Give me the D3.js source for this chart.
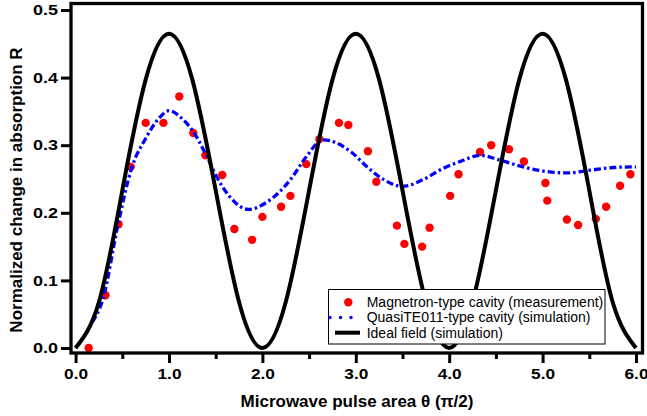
<!DOCTYPE html>
<html>
<head>
<meta charset="utf-8">
<script src="https://cdn.jsdelivr.net/npm/d3@7"></script>
<style>
  body { margin: 0; background: #fff; }
  svg { display: block; font-family: "Liberation Sans", Arial, Helvetica, sans-serif; }
</style>
</head>
<body>
<div id="chart"></div>
<script>
// measured cavity response (red dots)
var measTheta = [0.14, 0.32, 0.46, 0.59, 0.75, 0.94, 1.11, 1.26, 1.39, 1.57, 1.70, 1.89, 2.00,
  2.20, 2.30, 2.47, 2.61, 2.82, 2.92, 3.13, 3.22, 3.44, 3.52, 3.71, 3.79, 4.01, 4.10,
  4.33, 4.45, 4.64, 4.80, 5.03, 5.05, 5.26, 5.38, 5.57, 5.68, 5.83, 5.94];
var measR = [0.000, 0.078, 0.183, 0.268, 0.333, 0.333, 0.372, 0.318, 0.285, 0.256, 0.176, 0.160, 0.194,
  0.209, 0.225, 0.272, 0.309, 0.333, 0.330, 0.291, 0.246, 0.181, 0.154, 0.150, 0.178, 0.225, 0.257,
  0.290, 0.300, 0.294, 0.276, 0.244, 0.218, 0.190, 0.182, 0.191, 0.209, 0.240, 0.257];

// QuasiTE011 simulation (blue dash-dot)
var quasiTheta = [0, 0.15, 0.30, 0.45, 0.60, 0.75, 0.90, 1.00, 1.15, 1.25, 1.40, 1.50, 1.65, 1.85,
  2.05, 2.30, 2.47, 2.65, 2.95, 3.12, 3.30, 3.50, 3.72, 3.94, 4.12, 4.33, 4.54, 4.79,
  5.04, 5.26, 5.51, 5.76, 6.00];
var quasiR = [0.000, 0.031, 0.076, 0.180, 0.266, 0.310, 0.341, 0.351, 0.338, 0.322, 0.285, 0.256, 0.224, 0.205,
  0.216, 0.249, 0.283, 0.308, 0.290, 0.268, 0.249, 0.239, 0.249, 0.266, 0.276, 0.285, 0.278, 0.268,
  0.261, 0.259, 0.263, 0.267, 0.268];

// ideal field simulation (black)
var idealTheta = [0, 0.25, 0.5, 0.75, 1, 1.25, 1.5, 1.75, 2, 2.25, 2.5, 2.75, 3, 3.25, 3.5, 3.75,
  4, 4.25, 4.5, 4.75, 5, 5.25, 5.5, 5.75, 6];
var idealR = [0, 0.068, 0.233, 0.397, 0.465, 0.397, 0.233, 0.068, 0, 0.068, 0.233, 0.397, 0.465, 0.397,
  0.233, 0.068, 0, 0.068, 0.233, 0.397, 0.465, 0.397, 0.233, 0.068, 0];

var xTicks = [0, 1, 2, 3, 4, 5, 6];
var xMinor = [0.5, 1.5, 2.5, 3.5, 4.5, 5.5];
var yTicks = [0, 0.1, 0.2, 0.3, 0.4, 0.5];

var legendLabels = ["Magnetron-type cavity (measurement)", "QuasiTE011-type cavity (simulation)", "Ideal field (simulation)"];

var width = 647, height = 416;

var x = d3.scaleLinear().domain([0, 6]).range([75.6, 636]);
var y = d3.scaleLinear().domain([0, 0.5]).range([348, 10]);

var svg = d3.select("#chart").append("svg")
  .attr("width", width)
  .attr("height", height);

var frame = {left: 71, right: 642.5, top: 3.5, bottom: 353};

// data layers
var line = d3.line()
  .x(function(d){ return x(d[0]); })
  .y(function(d){ return y(d[1]); });

svg.append("g")
  .selectAll("circle")
  .data(d3.zip(measTheta, measR))
  .enter().append("circle")
    .attr("cx", function(d){ return x(d[0]); })
    .attr("cy", function(d){ return y(d[1]); })
    .attr("r", 4.2)
    .style("fill", "#f00");

svg.append("path")
  .datum(d3.zip(quasiTheta, quasiR))
  .attr("d", line.curve(d3.curveMonotoneX))
  .style("fill", "none")
  .style("stroke", "#0000ff")
  .style("stroke-width", 3.3)
  .style("stroke-dasharray", "7,3,2.5,3");

svg.append("path")
  .datum(d3.zip(idealTheta, idealR))
  .attr("d", line.curve(d3.curveNatural))
  .style("fill", "none")
  .style("stroke", "#000")
  .style("stroke-width", 4);

// frame
svg.append("rect")
  .attr("x", frame.left)
  .attr("y", frame.top)
  .attr("width", frame.right - frame.left)
  .attr("height", frame.bottom - frame.top)
  .style("fill", "none")
  .style("stroke", "#000")
  .style("stroke-width", 3.3);

// axes
var xAxis = d3.axisBottom(x).tickValues(xTicks).tickSize(10).tickPadding(6)
  .tickFormat(d3.format(".1f"));
var gx = svg.append("g")
  .attr("transform", "translate(0," + frame.bottom + ")")
  .call(xAxis);
gx.select(".domain").remove();
gx.selectAll("text").attr("textLength", 24);

svg.append("g")
  .attr("transform", "translate(0," + frame.bottom + ")")
  .call(d3.axisBottom(x).tickValues(xMinor).tickSize(6).tickFormat(""))
  .select(".domain").remove();

var yAxis = d3.axisLeft(y).tickValues(yTicks).tickSize(10).tickPadding(3)
  .tickFormat(d3.format(".1f"));
var gy = svg.append("g")
  .attr("transform", "translate(" + frame.left + ",0)")
  .call(yAxis);
gy.select(".domain").remove();
gy.selectAll("text").attr("textLength", 25);

svg.selectAll(".tick line").style("stroke-width", 3);
svg.selectAll(".tick text")
  .attr("lengthAdjust", "spacingAndGlyphs")
  .style("font-size", "14.5px")
  .style("font-weight", "bold")
  .style("font-family", "Liberation Sans, Arial, sans-serif")
  .style("fill", "#000");

// axis titles
svg.append("text")
  .attr("x", 357)
  .attr("y", 407)
  .attr("text-anchor", "middle")
  .style("font-size", "17px")
  .style("font-weight", "bold")
  .text("Microwave pulse area \u03b8 (\u03c0/2)");

svg.append("text")
  .attr("transform", "translate(22,190) rotate(-90)")
  .attr("text-anchor", "middle")
  .style("font-size", "17px")
  .style("font-weight", "bold")
  .text("Normalized change in absorption R");

// legend
var lg = svg.append("g");
lg.append("rect")
  .attr("x", 328.5).attr("y", 289.5)
  .attr("width", 276.5).attr("height", 54.5)
  .style("fill", "#fff")
  .style("stroke", "#000")
  .style("stroke-width", 1);

var rowY = [302.3, 317.5, 332.7];
lg.append("circle").attr("cx", 348.3).attr("cy", rowY[0]).attr("r", 4.2).style("fill", "#f00");
lg.append("line")
  .attr("x1", 330).attr("x2", 360).attr("y1", rowY[1]).attr("y2", rowY[1])
  .style("stroke", "#0000ff").style("stroke-width", 3.5)
  .style("stroke-linecap", "round")
  .style("stroke-dasharray", "0,10.5");
lg.append("line")
  .attr("x1", 335).attr("x2", 360).attr("y1", rowY[2]).attr("y2", rowY[2])
  .style("stroke", "#000").style("stroke-width", 4);

lg.selectAll("text.lab")
  .data(legendLabels)
  .enter().append("text")
    .attr("class", "lab")
    .attr("x", 366.7)
    .attr("y", function(d, i){ return rowY[i]; })
    .attr("dy", "0.35em")
    .style("font-size", "14px")
    .text(function(d){ return d; });
</script>
</body>
</html>
